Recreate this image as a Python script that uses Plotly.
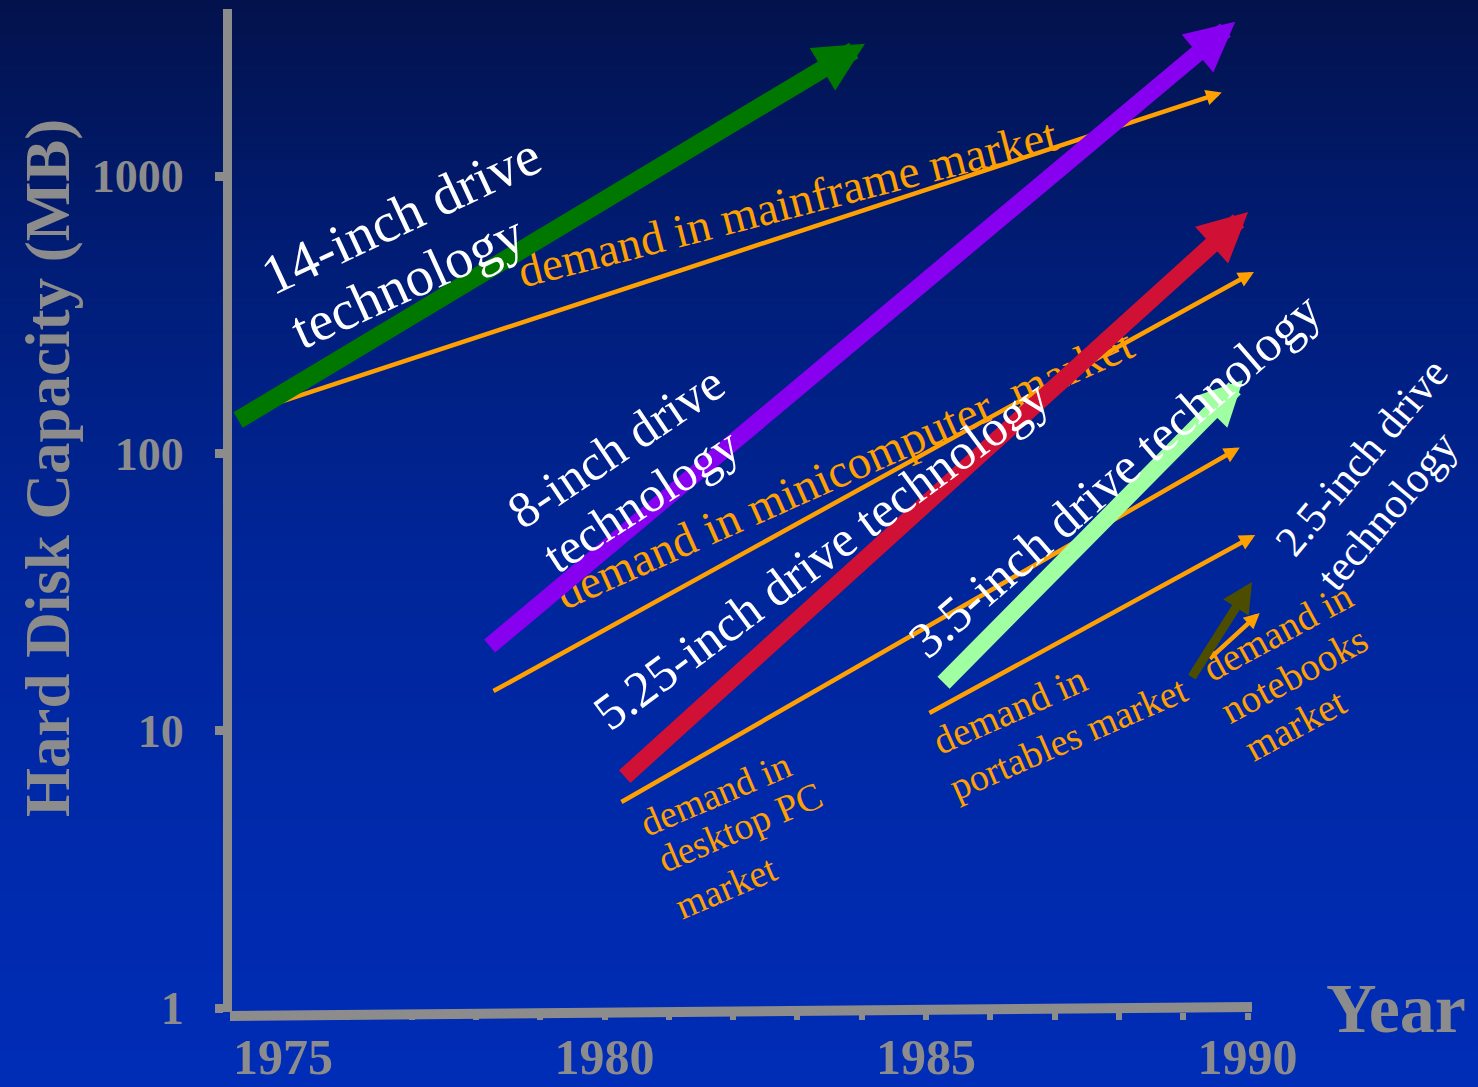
import numpy as np
import plotly.graph_objects as go

# ---- data: capacity trajectories (year, MB) ----
tech_labels = ["14-inch", "8-inch", "5.25-inch", "3.5-inch", "2.5-inch"]
tech_start_year = [1974.28, 1978.19, 1980.29, 1985.25, 1989.12]
tech_start_mb = [131, 20, 6.75, 14.7, 15.4]
tech_end_year = [1984.05, 1989.81, 1990.01, 1989.93, 1990.07]
tech_end_mb = [3000, 3600, 742, 184, 34.4]

demand_labels = ["mainframe", "minicomputer", "desktop PC", "portables", "notebooks"]
demand_start_year = [1974.83, 1978.25, 1980.24, 1985.03, 1989.39]
demand_start_mb = [150, 13.8, 5.49, 11.5, 18.0]
demand_end_year = [1989.60, 1990.10, 1989.88, 1990.12, 1990.19]
demand_end_mb = [2000, 451, 105, 50.8, 26.6]

y_tick_values = [1, 10, 100, 1000]
y_tick_text = ["1", "10", "100", "1000"]
x_tick_years = list(range(1975, 1991))
x_tick_text = [str(y) if y % 5 == 0 else "" for y in x_tick_years]

# ---- styling ----
SERIF = "Liberation Serif"
GRAY = "#8c8c8c"
ORANGE = "#ffa000"
WHITE = "#ffffff"
tech_colors = ["#007800", "#8800f0", "#d01034", "#a0ffa0", "#4d4d00"]
tech_widths = [18, 17, 17, 17, 9]
tech_heads = [0.55, 0.58, 0.58, 0.53, 0.67]
demand_width = 4.5
demand_head = 0.7

W, H = 1478, 1087
ML, MR, MT, MB = 232, 0, 9, 75
PW, PH = W - ML - MR, H - MT - MB

# axis scale: pixels per year / per decade, anchored at 1975 and 1 MB
X1975_PX, PX_PER_YEAR = 283.0, 64.3
Y1_PX, PX_PER_DECADE = 1008.0, 277.3
x_range = [1975 + (ML - X1975_PX) / PX_PER_YEAR, 1975 + (W - MR - X1975_PX) / PX_PER_YEAR]
y_range = [(Y1_PX - (H - MB)) / PX_PER_DECADE, (Y1_PX - MT) / PX_PER_DECADE]


def paper_x(px):
    return (px - ML) / PW


def paper_y(py):
    return (H - MB - py) / PH


# text labels: (text, year, MB, angle, size, color)
text_labels = [
    ("demand in mainframe market", 1982.84, 800, -14.5, 47, ORANGE),
    ("demand in minicomputer\u00a0 market", 1983.74, 88.6, -24, 47, ORANGE),
    ("demand in", 1981.72, 5.91, -23, 38, ORANGE),
    ("desktop PC", 1982.11, 4.49, -23, 38, ORANGE),
    ("market", 1981.89, 2.73, -23, 38, ORANGE),
    ("demand in", 1986.31, 11.9, -24, 39, ORANGE),
    ("portables market", 1987.21, 9.41, -23.5, 38, ORANGE),
    ("demand in", 1990.47, 22.7, -28.5, 39, ORANGE),
    ("notebooks", 1990.72, 15.9, -28.5, 39, ORANGE),
    ("market", 1990.74, 10.5, -28.5, 39, ORANGE),
]
tech_text_labels = [
    ("14-inch drive", 1976.84, 724, -25, 56, WHITE),
    ("technology", 1976.94, 418, -24.5, 56, WHITE),
    ("8-inch drive", 1980.18, 105.5, -34, 51, WHITE),
    ("technology", 1980.57, 67.9, -33, 50, WHITE),
    ("5.25-inch drive technology", 1983.37, 43.0, -36.5, 51, WHITE),
    ("3.5-inch drive technology", 1987.94, 83.6, -41, 51, WHITE),
    ("2.5-inch drive", 1991.78, 97.1, -50, 43, WHITE),
    ("technology", 1992.17, 62.5, -50, 43, WHITE),
]


def arrow(x0, y0, x1, y1, color, width, head):
    return dict(
        x=x1, y=np.log10(y1), ax=x0, ay=np.log10(y0),
        xref="x", yref="y", axref="x", ayref="y",
        text="", showarrow=True, arrowhead=2, arrowsize=head,
        arrowwidth=width, arrowcolor=color, standoff=0, startstandoff=0,
    )


def label(text, x, y, angle, size, color):
    return dict(
        x=x, y=np.log10(y), xref="x", yref="y", text=text, showarrow=False,
        textangle=angle, xanchor="center", yanchor="middle",
        font=dict(family=SERIF, size=size, color=color),
    )


annotations = []
for i in range(len(demand_labels)):
    annotations.append(arrow(demand_start_year[i], demand_start_mb[i],
                             demand_end_year[i], demand_end_mb[i],
                             ORANGE, demand_width, demand_head))
annotations += [label(*t) for t in text_labels]
for i in range(len(tech_labels)):
    annotations.append(arrow(tech_start_year[i], tech_start_mb[i],
                             tech_end_year[i], tech_end_mb[i],
                             tech_colors[i], tech_widths[i], tech_heads[i]))
annotations += [label(*t) for t in tech_text_labels]

# axis titles
annotations.append(dict(
    x=paper_x(1396), y=paper_y(1008), xref="paper", yref="paper",
    text="Year", showarrow=False, xanchor="center", yanchor="middle",
    font=dict(family=SERIF, size=70, color=GRAY, weight="bold"),
))
annotations.append(dict(
    x=paper_x(48), y=paper_y(468), xref="paper", yref="paper",
    text="Hard Disk Capacity (MB)", showarrow=False, textangle=-90,
    xanchor="center", yanchor="middle",
    font=dict(family=SERIF, size=63, color=GRAY, weight="bold"),
))

# vertical background gradient, drawn as thin strips over the whole page
stops_px = [0, 250, 550, 850, H]
stops_rgb = [(3, 18, 76), (0, 28, 116), (0, 37, 152), (0, 42, 172), (0, 45, 183)]
shapes = []
n_strips = 150
for k in range(n_strips):
    top = k * H / n_strips
    bot = (k + 1) * H / n_strips
    mid = (top + bot) / 2
    rgb = [np.interp(mid, stops_px, [c[j] for c in stops_rgb]) for j in range(3)]
    shapes.append(dict(
        type="rect", xref="paper", yref="paper", layer="below",
        x0=paper_x(-5), x1=paper_x(W + 5),
        y0=paper_y(bot + 0.6), y1=paper_y(top - 0.6),
        line=dict(width=0),
        fillcolor="rgb(%d,%d,%d)" % tuple(int(round(v)) for v in rgb),
    ))

# slightly tilted baseline for the year axis
shapes.append(dict(
    type="line", xref="paper", yref="paper", layer="above",
    x0=paper_x(230), y0=paper_y(1016), x1=paper_x(1252), y1=paper_y(1007),
    line=dict(color=GRAY, width=10),
))

fig = go.Figure()
fig.update_layout(
    template="none",
    width=W, height=H,
    margin=dict(l=ML, r=MR, t=MT, b=MB, autoexpand=False),
    paper_bgcolor="rgb(0,45,183)",
    plot_bgcolor="rgba(0,0,0,0)",
    showlegend=False,
    annotations=annotations,
    shapes=shapes,
    xaxis=dict(
        range=x_range, showgrid=False, zeroline=False, automargin=False,
        showline=False, tickmode="array", tickvals=x_tick_years,
        ticktext=x_tick_text, ticks="outside", ticklen=7, tickwidth=6,
        tickcolor=GRAY, ticklabelstandoff=-6,
        tickfont=dict(family=SERIF, size=50, color=GRAY, weight="bold"),
    ),
    yaxis=dict(
        type="log", range=y_range, showgrid=False, zeroline=False,
        automargin=False, showline=True, linecolor=GRAY, linewidth=9,
        tickmode="array", tickvals=y_tick_values, ticktext=y_tick_text,
        ticks="outside", ticklen=8, tickwidth=9, tickcolor=GRAY,
        ticklabelstandoff=22,
        tickfont=dict(family=SERIF, size=46, color=GRAY, weight="bold"),
    ),
)

fig.write_html("out.html")
